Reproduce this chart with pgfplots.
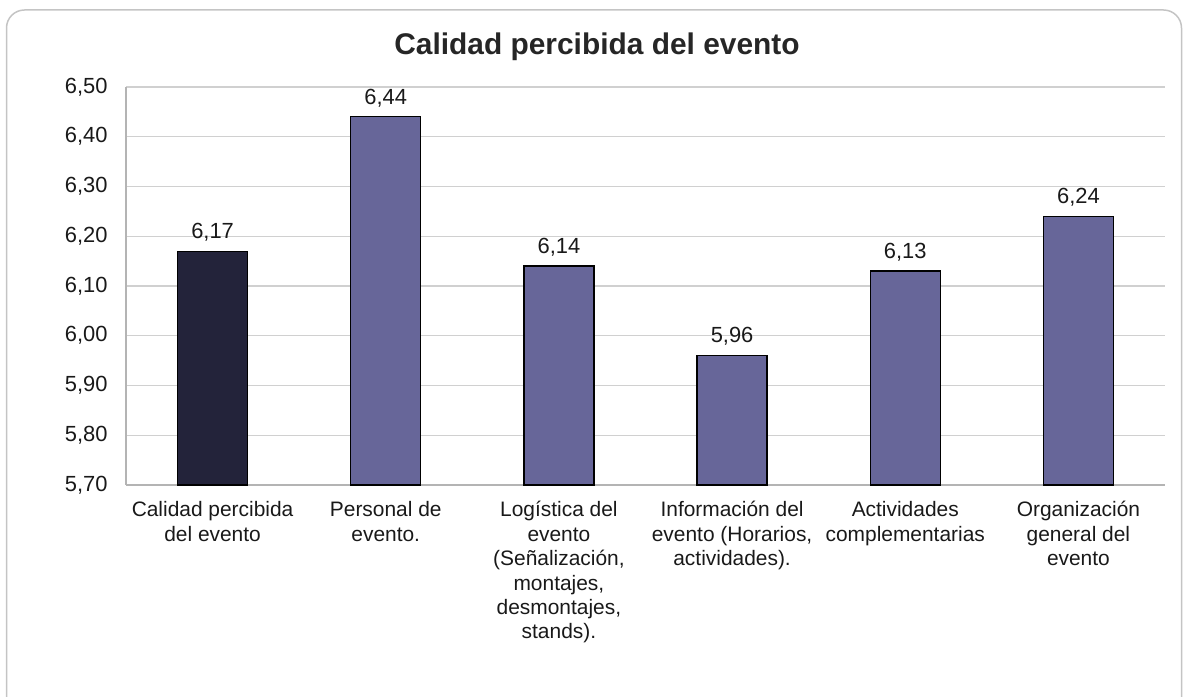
\documentclass[border=0pt]{standalone}
\usepackage{pgfplots}
\pgfplotsset{compat=1.18}
\usepackage{fontspec}
\setmainfont{Liberation Sans}

\definecolor{barDark}{HTML}{23233A}
\definecolor{barPurple}{HTML}{676699}
\definecolor{gridGray}{HTML}{D0D0D0}
\definecolor{axisGray}{HTML}{B4B4B4}
\definecolor{frameGray}{HTML}{C4C4C4}

\begin{document}
\begin{tikzpicture}[x=1bp,y=1bp]
  \useasboundingbox (0,0) rectangle (1183,697);
  \begin{scope}
    \clip (0,0) rectangle (1183,697);
    \draw[frameGray, line width=1.5bp, rounded corners=18bp] (6.5,-30) rectangle (1181.5,687);
  \end{scope}
  \node[font=\bfseries\fontsize{30}{35}\selectfont, text=black!85] at (597,650) {Calidad percibida del evento};
  \begin{axis}[
    at={(126bp,212bp)}, anchor=south west,
    scale only axis, width=1039bp, height=398bp,
    ybar, bar width=70bp, bar shift=0pt,
    xmin=-0.5, xmax=5.5,
    ymin=5.7, ymax=6.5,
    ytick={5.7,5.8,5.9,6.0,6.1,6.2,6.3,6.4,6.5},
    xtick={0,1,2,3,4,5},
    xticklabels={
      {Calidad percibida\\del evento},
      {Personal de\\evento.},
      {Logística del\\evento\\(Señalización,\\montajes,\\desmontajes,\\stands).},
      {Información del\\evento (Horarios,\\actividades).},
      {Actividades\\complementarias},
      {Organización\\general del\\evento}},
    xticklabel style={align=center, font=\fontsize{21}{24.5}\selectfont, text=black!90, yshift=-13bp},
    yticklabel style={font=\fontsize{22}{24}\selectfont, text=black!90, xshift=-15bp},
    /pgf/number format/.cd, fixed, fixed zerofill, precision=2, use comma, assume math mode=true,
    /pgfplots/.cd,
    major tick length=0pt,
    axis x line*=bottom, axis y line*=left,
    axis line style={axisGray, line width=1.2bp},
    ymajorgrids, grid style={gridGray, line width=1.2bp},
    nodes near coords,
    nodes near coords style={font=\fontsize{22}{24}\selectfont, text=black!90, yshift=6bp},
    clip=false,
  ]
    \addplot[fill=barDark, draw=black, line width=1.3bp] coordinates {(0,6.17)};
    \addplot[fill=barPurple, draw=black, line width=1.3bp] coordinates {
      (1,6.44) (2,6.14) (3,5.96) (4,6.13) (5,6.24)};
  \end{axis}
\end{tikzpicture}
\end{document}
